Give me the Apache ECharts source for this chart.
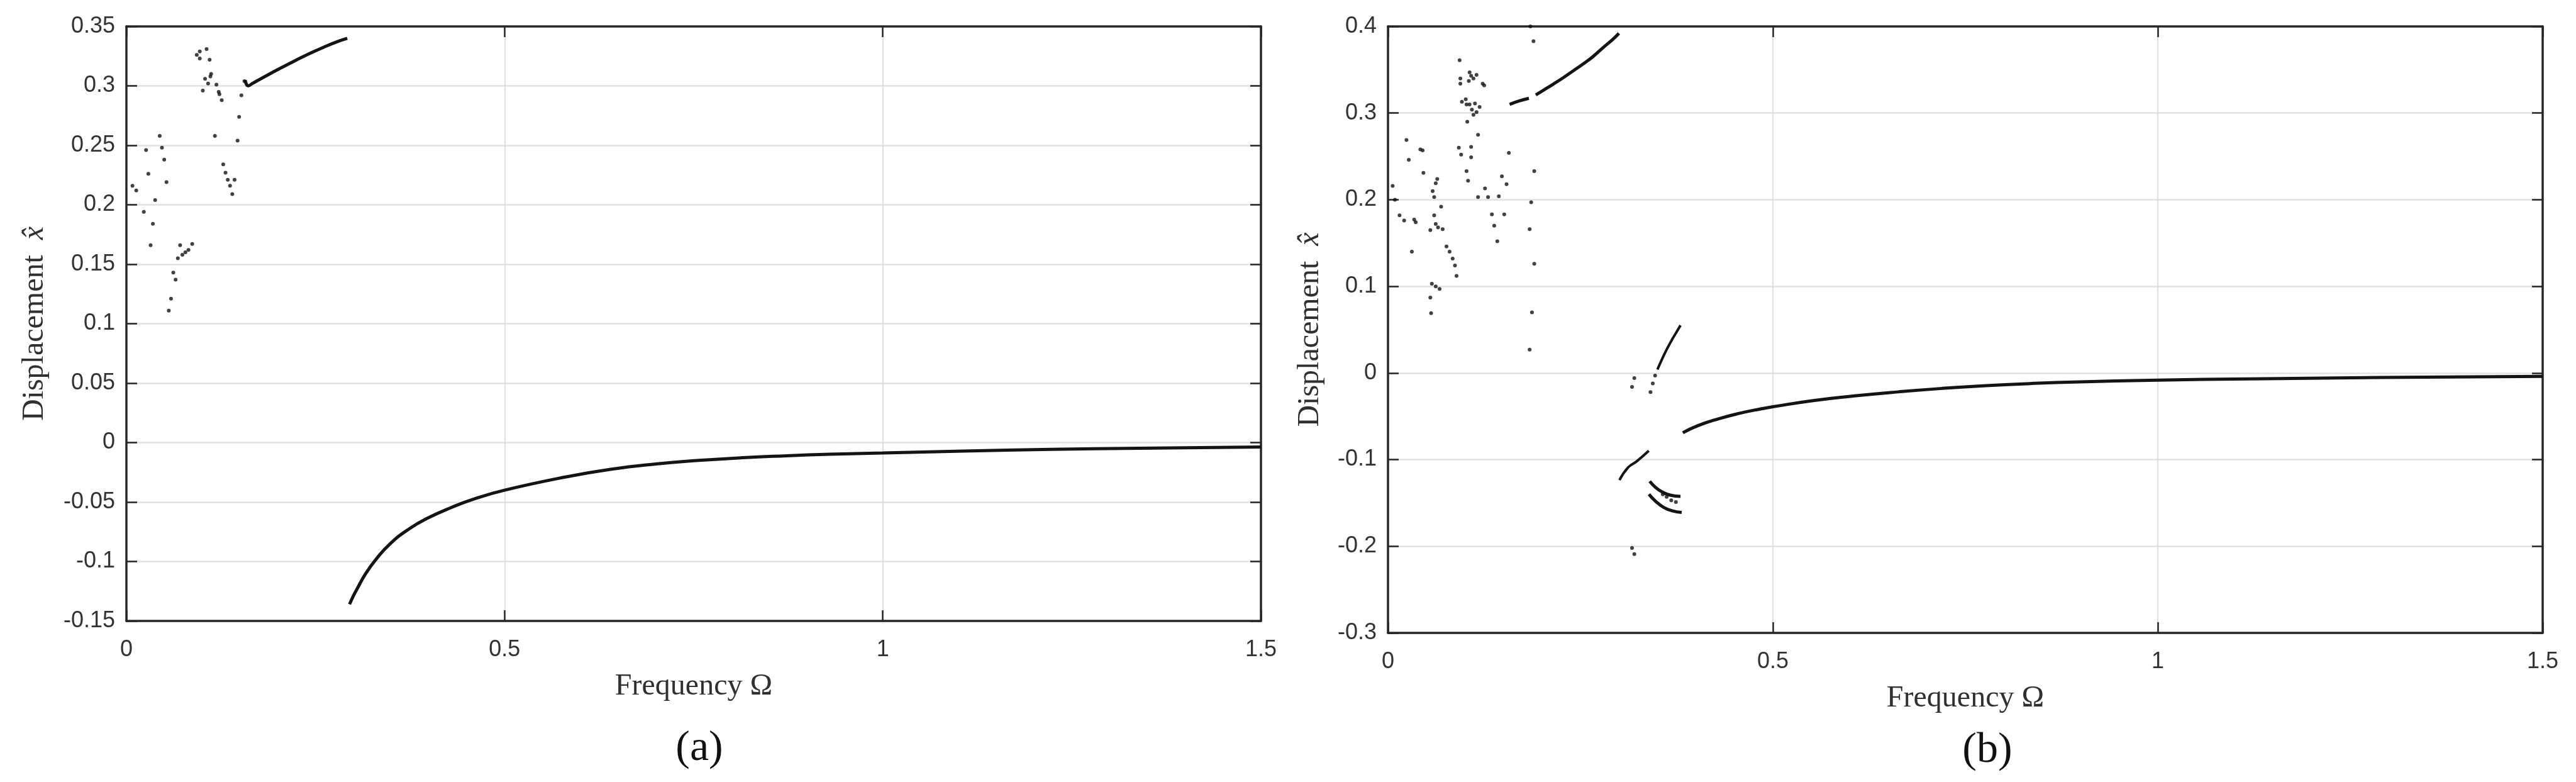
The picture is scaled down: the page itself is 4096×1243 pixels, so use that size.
<!DOCTYPE html>
<html>
<head>
<meta charset="utf-8">
<script src="https://cdn.jsdelivr.net/npm/echarts@6/dist/echarts.min.js"></script>
<style>
  html, body { margin: 0; padding: 0; background: #fff; }
  #chart { width: 4096px; height: 1243px; }
</style>
</head>
<body>
<div id="chart"></div>
<script>
// frequency axis (shared by both panels)
const freqTicks = [0, 0.5, 1, 1.5];
const dispTicksA = [-0.15, -0.1, -0.05, 0, 0.05, 0.1, 0.15, 0.2, 0.25, 0.3, 0.35];
const dispTicksB = [-0.3, -0.2, -0.1, 0, 0.1, 0.2, 0.3, 0.4];

// panel (a): scattered response points [Omega, x]
const aScatter = [
  [0.008, 0.216], [0.013, 0.212], [0.023, 0.194], [0.026, 0.246], [0.029, 0.226], [0.032, 0.166],
  [0.035, 0.184], [0.038, 0.204], [0.044, 0.258], [0.047, 0.248], [0.050, 0.238], [0.053, 0.219],
  [0.056, 0.111], [0.059, 0.121], [0.062, 0.143], [0.065, 0.137], [0.068, 0.155],
  [0.071, 0.166], [0.074, 0.158], [0.078, 0.160], [0.082, 0.162], [0.087, 0.167],
  [0.093, 0.326], [0.097, 0.329], [0.097, 0.323], [0.106, 0.331], [0.110, 0.322],
  [0.101, 0.296], [0.104, 0.306], [0.108, 0.302], [0.111, 0.308], [0.112, 0.310],
  [0.117, 0.258], [0.119, 0.301], [0.122, 0.295], [0.123, 0.293], [0.126, 0.288],
  [0.128, 0.234], [0.131, 0.227], [0.134, 0.221], [0.137, 0.216], [0.140, 0.209], [0.143, 0.221],
  [0.147, 0.254], [0.149, 0.274], [0.152, 0.292], [0.156, 0.304]
];
// panel (a): continuous branches
const aUpper = [
  [0.157, 0.305], [0.161, 0.300], [0.167, 0.3022], [0.186, 0.3089], [0.204, 0.3150], [0.223, 0.3212],
  [0.241, 0.3268], [0.260, 0.3323], [0.279, 0.3372], [0.292, 0.3400]
];
const aLower = [
  [0.295, -0.136], [0.300, -0.129], [0.305, -0.123], [0.316, -0.1105], [0.329, -0.0990], [0.348, -0.0855],
  [0.374, -0.0725], [0.400, -0.0630], [0.430, -0.0545], [0.459, -0.0475], [0.500, -0.040], [0.580, -0.029],
  [0.640, -0.0225], [0.700, -0.018], [0.757, -0.015], [0.815, -0.0127], [0.873, -0.0111], [0.930, -0.0098],
  [1.000, -0.0087], [1.106, -0.0072], [1.222, -0.0057], [1.339, -0.0048], [1.500, -0.0037]
];

// panel (b): scattered response points
const bScatter = [
  [0.006, 0.216], [0.009, 0.200], [0.015, 0.182], [0.021, 0.176], [0.024, 0.269], [0.027, 0.246],
  [0.031, 0.140], [0.034, 0.177], [0.036, 0.174], [0.042, 0.258], [0.045, 0.257], [0.046, 0.231],
  [0.055, 0.087], [0.056, 0.069], [0.055, 0.165], [0.057, 0.103], [0.062, 0.100], [0.067, 0.097],
  [0.058, 0.210], [0.060, 0.203], [0.062, 0.219], [0.064, 0.224], [0.060, 0.182], [0.062, 0.172],
  [0.065, 0.168], [0.071, 0.166], [0.069, 0.192], [0.076, 0.146], [0.080, 0.140], [0.084, 0.132],
  [0.087, 0.124], [0.089, 0.112], [0.093, 0.361], [0.092, 0.260], [0.095, 0.252],
  [0.094, 0.340], [0.094, 0.334], [0.106, 0.347], [0.108, 0.343], [0.111, 0.340], [0.115, 0.344],
  [0.123, 0.334], [0.125, 0.332], [0.105, 0.337],
  [0.096, 0.313], [0.101, 0.316], [0.102, 0.310], [0.106, 0.310], [0.109, 0.304], [0.115, 0.301],
  [0.119, 0.307], [0.113, 0.311], [0.111, 0.298], [0.103, 0.290],
  [0.102, 0.233], [0.104, 0.222], [0.108, 0.261], [0.108, 0.249], [0.117, 0.275],
  [0.117, 0.203], [0.126, 0.213], [0.130, 0.203], [0.135, 0.183], [0.138, 0.170], [0.142, 0.152],
  [0.144, 0.204], [0.148, 0.227], [0.154, 0.218], [0.151, 0.183], [0.157, 0.254],
  [0.185, 0.400], [0.189, 0.383], [0.190, 0.233], [0.186, 0.197], [0.184, 0.166], [0.190, 0.126],
  [0.187, 0.070], [0.184, 0.027],
  [0.320, -0.006], [0.317, -0.016], [0.347, -0.003], [0.344, -0.012], [0.341, -0.022],
  [0.317, -0.202], [0.320, -0.209],
  [0.357, -0.140], [0.362, -0.143], [0.368, -0.147], [0.374, -0.149]
];
// panel (b): continuous branches
const bUpperLeft = [[0.158, 0.310], [0.1705, 0.314], [0.183, 0.317]];
const bUpperRight = [
  [0.192, 0.321], [0.203, 0.327], [0.214, 0.333], [0.228, 0.341], [0.241, 0.349], [0.254, 0.357],
  [0.266, 0.365], [0.280, 0.376], [0.292, 0.385], [0.300, 0.392]
];
const bRising = [[0.350, 0.004], [0.356, 0.016], [0.362, 0.027], [0.368, 0.037], [0.374, 0.046], [0.380, 0.055]];
const bDiag = [[0.3007, -0.1237], [0.312, -0.109], [0.323, -0.102], [0.3388, -0.0898]];
const bClusterA = [[0.340, -0.125], [0.3475, -0.132], [0.3556, -0.137], [0.3666, -0.141], [0.380, -0.1425]];
const bClusterB = [[0.339, -0.140], [0.3475, -0.148], [0.358, -0.155], [0.369, -0.159], [0.3815, -0.161]];
const bLower = [
  [0.383, -0.069], [0.402, -0.061], [0.429, -0.053], [0.457, -0.0465], [0.484, -0.0415], [0.500, -0.039],
  [0.551, -0.032], [0.606, -0.0265], [0.663, -0.0218], [0.720, -0.0178], [0.777, -0.0146], [0.834, -0.0122],
  [0.891, -0.0104], [1.000, -0.0083], [1.119, -0.0068], [1.233, -0.0057], [1.347, -0.0048], [1.500, -0.0039]
];

const frameColor = '#262626';
const gridColor = '#e2e2e2';
const labelFont = 'Liberation Sans, Arial, sans-serif';
const serifFont = 'Liberation Serif, Times New Roman, serif';

const chart = echarts.init(document.getElementById('chart'), null, { renderer: 'canvas' });

const bottomX = (gridIndex) => ({
  type: 'value', gridIndex, position: 'bottom',
  min: freqTicks[0], max: freqTicks[freqTicks.length - 1], interval: freqTicks[1] - freqTicks[0],
  name: 'Frequency \u03A9', nameLocation: 'middle', nameGap: 80,
  nameTextStyle: { fontFamily: serifFont, fontSize: 48, color: '#303030' },
  axisLine: { show: true, onZero: false, lineStyle: { color: frameColor, width: 3.5 } },
  axisTick: { show: true, inside: true, length: 17, lineStyle: { color: frameColor, width: 2.5 } },
  axisLabel: { fontFamily: labelFont, fontSize: 36, color: '#333', margin: 28 },
  splitLine: { show: true, lineStyle: { color: '#d6d6d6', width: 1.5 } }
});
const topX = (gridIndex) => ({
  type: 'value', gridIndex, position: 'top',
  min: freqTicks[0], max: freqTicks[freqTicks.length - 1], interval: freqTicks[1] - freqTicks[0],
  axisLine: { show: true, onZero: false, lineStyle: { color: frameColor, width: 3.5 } },
  axisTick: { show: true, inside: true, length: 17, lineStyle: { color: frameColor, width: 2.5 } },
  axisLabel: { show: false }, splitLine: { show: false }
});
const leftY = (gridIndex, ticks, gap) => ({
  type: 'value', gridIndex, position: 'left',
  min: ticks[0], max: ticks[ticks.length - 1], interval: +(ticks[1] - ticks[0]).toFixed(4),
  name: '{t|Displacement}  {v|x\u0302}', nameLocation: 'middle', nameGap: gap,
  nameTextStyle: {
    fontFamily: serifFont, fontSize: 48, color: '#303030',
    rich: {
      t: { fontFamily: serifFont, fontSize: 48, color: '#303030' },
      v: { fontFamily: serifFont, fontSize: 48, fontStyle: 'italic', color: '#303030' }
    }
  },
  axisLine: { show: true, onZero: false, lineStyle: { color: frameColor, width: 3.5 } },
  axisTick: { show: true, inside: true, length: 17, lineStyle: { color: frameColor, width: 2.5 } },
  axisLabel: { fontFamily: labelFont, fontSize: 36, color: '#333', margin: 18 },
  splitLine: { show: true, lineStyle: { color: gridColor, width: 2.5 } }
});
const rightY = (gridIndex, ticks) => ({
  type: 'value', gridIndex, position: 'right',
  min: ticks[0], max: ticks[ticks.length - 1], interval: +(ticks[1] - ticks[0]).toFixed(4),
  axisLine: { show: true, onZero: false, lineStyle: { color: frameColor, width: 3.5 } },
  axisTick: { show: true, inside: true, length: 17, lineStyle: { color: frameColor, width: 2.5 } },
  axisLabel: { show: false }, splitLine: { show: false }
});

const dots = (data, xi, yi) => ({
  type: 'scatter', data, xAxisIndex: xi, yAxisIndex: yi,
  symbol: 'circle', symbolSize: 6, itemStyle: { color: '#111' }, z: 5
});
const branch = (data, xi, yi, width) => ({
  type: 'line', data, xAxisIndex: xi, yAxisIndex: yi,
  showSymbol: false, smooth: 0.5,
  lineStyle: { color: '#141414', width: width || 5 }, z: 5
});

chart.setOption({
  animation: false,
  backgroundColor: '#fff',
  grid: [
    { left: 201, top: 42, width: 1804, height: 945 },
    { left: 2207, top: 42, width: 1836, height: 964 }
  ],
  xAxis: [bottomX(0), topX(0), bottomX(1), topX(1)],
  yAxis: [leftY(0, dispTicksA, 122), rightY(0, dispTicksA), leftY(1, dispTicksB, 100), rightY(1, dispTicksB)],
  graphic: [
    { type: 'text', x: 1112, y: 1190, style: { text: '(a)', font: '68px ' + serifFont, fill: '#111', textAlign: 'center', textVerticalAlign: 'middle' } },
    { type: 'text', x: 3160, y: 1193, style: { text: '(b)', font: '68px ' + serifFont, fill: '#111', textAlign: 'center', textVerticalAlign: 'middle' } }
  ],
  series: [
    dots(aScatter, 0, 0),
    branch(aUpper, 0, 0),
    branch(aLower, 0, 0),
    dots(bScatter, 2, 2),
    branch(bUpperLeft, 2, 2),
    branch(bUpperRight, 2, 2),
    branch(bRising, 2, 2, 4),
    branch(bDiag, 2, 2, 4),
    branch(bClusterA, 2, 2, 5),
    branch(bClusterB, 2, 2, 5),
    branch(bLower, 2, 2)
  ]
});
</script>
</body>
</html>
